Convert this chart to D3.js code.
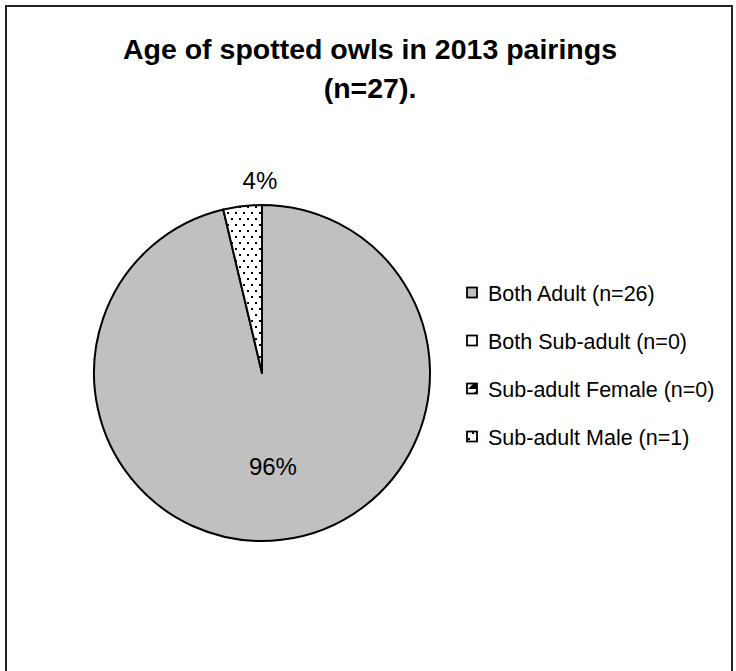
<!DOCTYPE html>
<html>
<head>
<meta charset="utf-8">
<script src="https://cdn.jsdelivr.net/npm/d3@7"></script>
<style>
  body { margin: 0; background: #fff; }
  text { font-family: Arial, "Liberation Sans", sans-serif; }
</style>
</head>
<body>
<div id="draw"></div>
<script>
let W = 736, H = 671;

// chart data
let categories = ['Both Adult', 'Both Sub-adult', 'Sub-adult Female', 'Sub-adult Male'];
let counts = [26, 0, 0, 1];
let fills = ['#C0C0C0', '#FFFFFF', 'url(#diag)', 'url(#dots)'];
let titleLines = ['Age of spotted owls in 2013 pairings', '(n=27).'];

let total = d3.sum(counts);
let cx = 262, cy = 373, R = 168;

let svg = d3.select('#draw').append('svg').attr('width', W).attr('height', H);

let defs = svg.append('defs');
// dotted fill
let dots = defs.append('pattern').attr('id', 'dots')
  .attr('patternUnits', 'userSpaceOnUse').attr('width', 8).attr('height', 12);
dots.append('rect').attr('width', 8).attr('height', 12).attr('fill', '#fff');
dots.append('rect').attr('x', 1).attr('y', 1).attr('width', 2).attr('height', 2).attr('fill', '#000');
dots.append('rect').attr('x', 5).attr('y', 7).attr('width', 2).attr('height', 2).attr('fill', '#000');
// half black fill
let diag = defs.append('pattern').attr('id', 'diag')
  .attr('patternUnits', 'userSpaceOnUse').attr('width', 10).attr('height', 10);
diag.append('rect').attr('width', 10).attr('height', 10).attr('fill', '#fff');
diag.append('path').attr('d', 'M10,1 L10,10 L1,10 Z').attr('fill', '#000');

// chart border (bottom edge runs off the picture)
svg.append('rect')
  .attr('x', 6).attr('y', 6).attr('width', 726).attr('height', 700)
  .attr('fill', 'none').attr('stroke', '#222').attr('stroke-width', 2);

// title
svg.append('g').selectAll('text').data(titleLines).enter().append('text')
  .attr('x', 370).attr('y', (d, i) => 59 + i * 39)
  .attr('text-anchor', 'middle')
  .attr('font-size', 28.5).attr('font-weight', 'bold')
  .text(d => d);

// pie
let pie = d3.pie().sort(null).value(d => d)(counts);
let arc = d3.arc().innerRadius(0).outerRadius(R);
let g = svg.append('g').attr('transform', 'translate(' + cx + ',' + cy + ')');

g.selectAll('path').data(pie.filter(d => d.value > 0)).enter().append('path')
  .attr('d', arc)
  .attr('fill', d => fills[d.index])
  .attr('stroke', '#000').attr('stroke-width', 2)
  .attr('stroke-linejoin', 'round');

// percent labels: big slices inside, small ones outside
let inArc = d3.arc().innerRadius(R * 0.56).outerRadius(R * 0.56);
let outArc = d3.arc().innerRadius(R + 17).outerRadius(R + 17);
g.selectAll('text.pct').data(pie.filter(d => d.value > 0)).enter().append('text')
  .attr('class', 'pct')
  .each(function(d) {
    let big = d.value / total > 0.5;
    let p = (big ? inArc : outArc).centroid(d);
    d3.select(this)
      .attr('x', big ? p[0] : p[0] + 2).attr('y', p[1])
      .attr('text-anchor', big ? 'middle' : 'start')
      .attr('dy', big ? '0.35em' : '0');
  })
  .attr('font-size', 24)
  .text(d => Math.round(d.value / total * 100) + '%');

// legend
let legend = svg.append('g').attr('transform', 'translate(467,293)');
let rows = legend.selectAll('g').data(categories).enter().append('g')
  .attr('transform', (d, i) => 'translate(0,' + i * 48 + ')');
rows.append('rect')
  .attr('x', 0).attr('y', -5.5).attr('width', 10).attr('height', 10)
  .attr('fill', (d, i) => fills[i])
  .attr('stroke', '#000').attr('stroke-width', 1.8);
rows.append('text')
  .attr('x', 21).attr('y', 0).attr('dy', '0.35em')
  .attr('font-size', 21.5)
  .text((d, i) => d + ' (n=' + counts[i] + ')');
</script>
</body>
</html>
